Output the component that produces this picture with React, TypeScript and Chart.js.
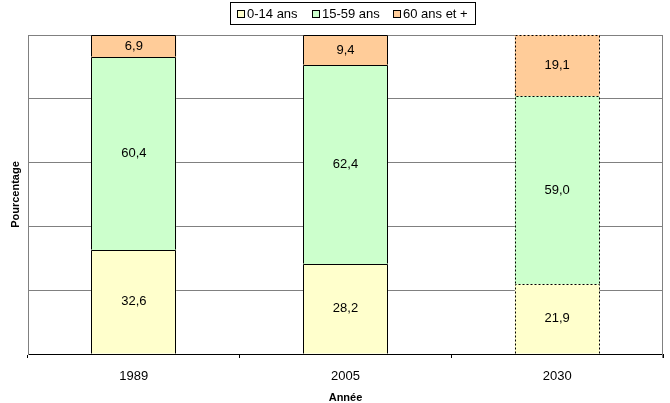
import React, { useEffect, useRef } from "react";
import { Chart, registerables } from "chart.js";

Chart.register(...registerables);

const categories = ["1989", "2005", "2030"];
const age0to14 = [32.6, 28.2, 21.9];
const age15to59 = [60.4, 62.4, 59.0];
const age60plus = [6.9, 9.4, 19.1];
const seriesLabels = ["0-14 ans", "15-59 ans", "60 ans et +"];
const seriesColors = ["#FFFFCC", "#CCFFCC", "#FFCC99"];
const projectedCategories = ["2030"];
const yMin = 0;
const yMax = 100;
const yStep = 20;
const yTitle = "Pourcentage";
const xTitle = "Année";

const FONT = "Arial, 'Liberation Sans', sans-serif";
const TEXT_SIZE = 13;

const fmt = (v: number) => v.toFixed(1).replace(".", ",");

const framePlugin = {
  id: "frame",
  beforeDatasetsDraw(chart: any) {
    const { ctx, chartArea } = chart;
    ctx.save();
    ctx.strokeStyle = "#808080";
    ctx.lineWidth = 1;
    ctx.beginPath();
    const r = Math.round(chartArea.right) - 0.5;
    ctx.moveTo(r, chartArea.top);
    ctx.lineTo(r, chartArea.bottom + 4);
    ctx.stroke();
    ctx.restore();
  },
};

const outlinePlugin = {
  id: "outline",
  afterDatasetsDraw(chart: any) {
    const { ctx } = chart;
    ctx.save();
    ctx.strokeStyle = "#000";
    ctx.lineWidth = 1;
    chart.data.datasets.forEach((_: any, di: number) => {
      const meta = chart.getDatasetMeta(di);
      chart.data.labels.forEach((lab: string, i: number) => {
        const el = meta.data[i];
        if (!el) return;
        const { x, y, base, width } = el.getProps(["x", "y", "base", "width"], true);
        ctx.setLineDash(projectedCategories.includes(lab) ? [2, 2] : []);
        const l = Math.round(x - width / 2) + 0.5;
        const rr = Math.round(x + width / 2) - 0.5;
        const t = Math.round(Math.min(y, base)) + 0.5;
        const b = Math.round(Math.max(y, base)) - 0.5;
        ctx.beginPath();
        ctx.moveTo(l, b);
        ctx.lineTo(l, t);
        ctx.lineTo(rr, t);
        ctx.lineTo(rr, b);
        ctx.stroke();
      });
    });
    ctx.restore();
  },
};

const valueLabelPlugin = {
  id: "valueLabels",
  afterDatasetsDraw(chart: any) {
    const { ctx } = chart;
    ctx.save();
    ctx.font = `${TEXT_SIZE}px ${FONT}`;
    ctx.fillStyle = "#000";
    ctx.textAlign = "center";
    ctx.textBaseline = "middle";
    chart.data.datasets.forEach((ds: any, di: number) => {
      const meta = chart.getDatasetMeta(di);
      meta.data.forEach((el: any, i: number) => {
        const { x, y, base } = el.getProps(["x", "y", "base"], true);
        ctx.fillText(fmt(ds.data[i]), x, (y + base) / 2);
      });
    });
    ctx.restore();
  },
};

const boxLegendPlugin = {
  id: "boxLegend",
  afterDraw(chart: any) {
    const { ctx } = chart;
    ctx.save();
    ctx.font = `${TEXT_SIZE}px ${FONT}`;
    const box = 8;
    const boxGap = 2;
    const itemGap = 14;
    const padX = 7;
    const items = chart.data.datasets.map((ds: any) => ({
      label: ds.label,
      color: ds.backgroundColor,
      w: ctx.measureText(ds.label).width,
    }));
    const inner =
      items.reduce((s: number, it: any) => s + box + boxGap + it.w, 0) +
      itemGap * (items.length - 1);
    const frameW = Math.round(inner + 2 * padX);
    const cx = 352;
    const fl = Math.round(cx - frameW / 2);
    const ft = 2;
    const fh = 22;
    ctx.strokeStyle = "#000";
    ctx.lineWidth = 1;
    ctx.strokeRect(fl + 0.5, ft + 0.5, frameW, fh);
    let x = fl + padX;
    const cy = ft + fh / 2 + 1;
    items.forEach((it: any) => {
      const bx = Math.round(x);
      const by = Math.round(cy - box / 2);
      ctx.fillStyle = it.color;
      ctx.fillRect(bx, by, box, box);
      ctx.strokeStyle = "#000";
      ctx.strokeRect(bx + 0.5, by + 0.5, box - 1, box - 1);
      ctx.fillStyle = "#000";
      ctx.textAlign = "left";
      ctx.textBaseline = "middle";
      ctx.fillText(it.label, bx + box + boxGap, cy);
      x += box + boxGap + it.w + itemGap;
    });
    ctx.restore();
  },
};

export default function App() {
  const ref = useRef<HTMLCanvasElement | null>(null);
  useEffect(() => {
    if (!ref.current) return;
    const series = [age0to14, age15to59, age60plus];
    const chart = new Chart(ref.current, {
      type: "bar",
      data: {
        labels: categories,
        datasets: series.map((d, i) => ({
          label: seriesLabels[i],
          data: d,
          backgroundColor: seriesColors[i],
          borderWidth: 0,
          barPercentage: 0.4,
          categoryPercentage: 1,
        })),
      },
      options: {
        responsive: false,
        animation: false,
        devicePixelRatio: 1,
        layout: { padding: { top: 35, left: 8, right: 7, bottom: 0 } },
        plugins: {
          legend: { display: false },
          tooltip: { enabled: false },
        },
        scales: {
          x: {
            stacked: true,
            offset: true,
            grid: {
              offset: true,
              drawOnChartArea: false,
              drawTicks: true,
              tickLength: 4,
              color: "#000",
            },
            border: { display: true, color: "#000", width: 1 },
            ticks: {
              color: "#000",
              font: { family: FONT, size: TEXT_SIZE },
              padding: 11,
            },
            title: {
              display: true,
              text: xTitle,
              color: "#000",
              font: { family: FONT, size: 11, weight: "bold" },
              padding: { top: 5, bottom: -2 },
            },
            afterFit: (axis: any) => {
              axis.height = 49;
            },
          },
          y: {
            stacked: true,
            min: yMin,
            max: yMax,
            ticks: { display: false, stepSize: yStep },
            grid: { color: "#808080", drawTicks: false, lineWidth: 1 },
            border: { display: true, color: "#808080", width: 1 },
            title: {
              display: true,
              text: yTitle,
              color: "#000",
              font: { family: FONT, size: 11, weight: "bold" },
              padding: { top: 1, bottom: 0 },
            },
            afterFit: (axis: any) => {
              axis.width = 20;
            },
          },
        },
      },
      plugins: [framePlugin, outlinePlugin, valueLabelPlugin, boxLegendPlugin],
    });
    return () => chart.destroy();
  }, []);
  return (
    <div style={{ position: "absolute", left: 0, top: 0, width: 670, height: 403, background: "#fff" }}>
      <canvas ref={ref} width={670} height={403} style={{ display: "block" }} />
    </div>
  );
}
